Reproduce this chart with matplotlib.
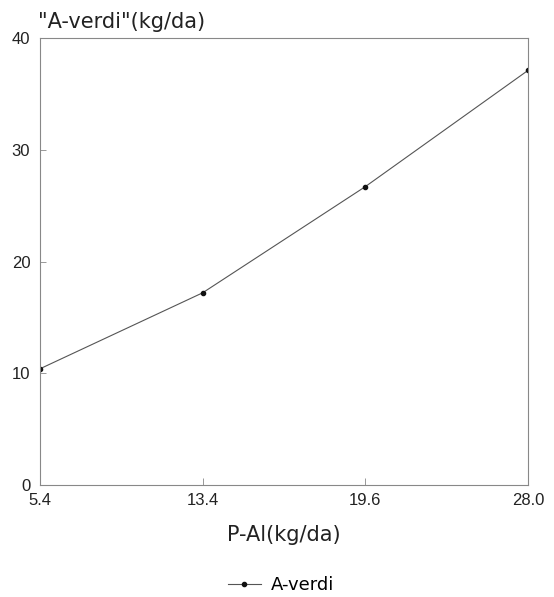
import matplotlib
matplotlib.use("Agg")
import matplotlib.pyplot as plt

# Data
p_al_labels = ["5.4", "13.4", "19.6", "28.0"]
a_verdi = [10.4, 17.2, 26.7, 37.1]
y_ticks = [0, 10, 20, 30, 40]

plt.rcParams['font.family'] = ['Liberation Sans', 'DejaVu Sans']

fig = plt.figure(figsize=(5.54, 5.97), dpi=100)
ax = fig.add_axes([0.0722, 0.1876, 0.8808, 0.7487])

x = list(range(len(p_al_labels)))
line, = ax.plot(x, a_verdi, color="#555555", lw=0.8, marker="o", ms=3,
                mfc="#111111", mec="#111111", label="A-verdi")

ax.set_xlim(0, len(p_al_labels) - 1)
ax.set_ylim(0, 40)
ax.set_xticks(x)
ax.set_xticklabels(p_al_labels, fontsize=12, color="#222222")
ax.set_yticks(y_ticks)
ax.set_yticklabels([str(v) for v in y_ticks], fontsize=12, color="#222222")
ax.tick_params(axis="x", direction="in", length=5, width=0.6, color="#888888", pad=6)
ax.tick_params(axis="y", direction="in", length=4, width=0.6, color="#888888", pad=7)
for s in ax.spines.values():
    s.set_color("#888888")
    s.set_linewidth(0.8)

ax.set_xlabel("P-Al(kg/da)", fontsize=15, color="#222222", labelpad=12,
              family="DejaVu Sans")
fig.text(0.068, 0.947, "\"A-verdi\"(kg/da)", fontsize=15, color="#222222",
         ha="left", va="bottom", family="DejaVu Sans")

fig.legend(handles=[line], loc="center", bbox_to_anchor=(0.507, 0.02),
           frameon=False, handlelength=1.85, handletextpad=0.55,
           prop={"family": "DejaVu Sans", "size": 13})

fig.savefig("out.png", dpi=100)
